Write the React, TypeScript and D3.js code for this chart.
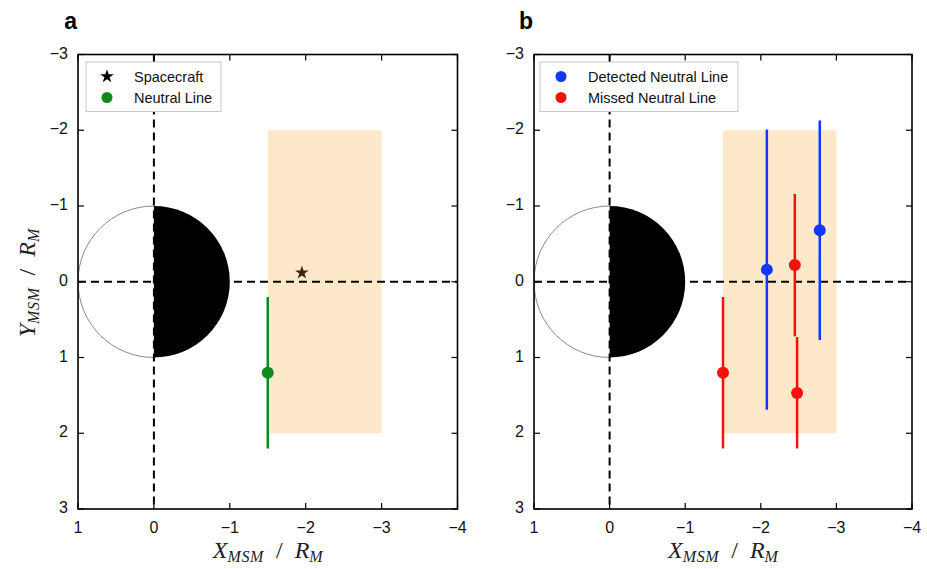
import React from "react";
import * as d3 from "d3";

// Axis ticks (MSM coordinates in Mercury radii)
const xTicks = [1, 0, -1, -2, -3, -4];
const yTicks = [-3, -2, -1, 0, 1, 2, 3];

// Plasma-sheet sampling region
const regionX = [-1.5, -3];
const regionY = [-2, 2];

// Panel a: spacecraft position and single neutral line estimate
const spacecraftX = [-1.95];
const spacecraftY = [-0.12];
const neutralX = [-1.5];
const neutralY = [1.2];
const neutralLo = [0.2];
const neutralHi = [2.2];

// Panel b: detected and missed neutral lines with Y extents
const detectedX = [-2.08, -2.78];
const detectedY = [-0.16, -0.68];
const detectedLo = [-2.01, -2.13];
const detectedHi = [1.69, 0.77];

const missedX = [-1.5, -2.45, -2.48];
const missedY = [1.2, -0.22, 1.47];
const missedLo = [0.2, -1.16, 0.73];
const missedHi = [2.2, 0.72, 2.2];

const W = 927;
const H = 569;
const TOP = 54.5;
const BOTTOM = 509;
const TICK_FONT = "'Liberation Sans', Arial, sans-serif";
const MATH_FONT = "'Liberation Serif', 'Times New Roman', serif";

const GREEN = "#12891e";
const BLUE = "#1238ff";
const RED = "#f5120e";
const REGION = "#fde9c9";

type Bar = { x: number; y: number; lo: number; hi: number };

const zipBars = (xs: number[], ys: number[], lo: number[], hi: number[]): Bar[] =>
  xs.map((x, i) => ({ x, y: ys[i], lo: lo[i], hi: hi[i] }));

function MathLabel({ main, sub, tail, tailSub }: { main: string; sub: string; tail: string; tailSub: string }) {
  return (
    <>
      <tspan fontStyle="italic">{main}</tspan>
      <tspan fontStyle="italic" fontSize={16} dy={4} letterSpacing={0.6}>{sub}</tspan>
      <tspan dy={-4}>{"\u2002/\u2002"}</tspan>
      <tspan fontStyle="italic">{tail}</tspan>
      <tspan fontStyle="italic" fontSize={16} dy={4}>{tailSub}</tspan>
    </>
  );
}

function Panel({
  left,
  right,
  letter,
  children,
  legend,
}: {
  left: number;
  right: number;
  letter: string;
  children: (x: d3.ScaleLinear<number, number>, y: d3.ScaleLinear<number, number>) => React.ReactNode;
  legend: React.ReactNode;
}) {
  const x = d3.scaleLinear().domain([1, -4]).range([left, right]);
  const y = d3.scaleLinear().domain([-3, 3]).range([TOP, BOTTOM]);
  const r = x(0) - x(1); // one Mercury radius in pixels (x)
  const ry = y(1) - y(0);
  const cx = x(0);
  const cy = y(0);
  const tickLen = 6;
  const clipId = `clip-${letter}`;

  return (
    <g>
      <defs>
        <clipPath id={clipId}>
          <rect x={left} y={TOP} width={right - left} height={BOTTOM - TOP} />
        </clipPath>
      </defs>
      <g clipPath={`url(#${clipId})`}>
        <rect
          x={x(regionX[0])}
          y={y(regionY[0])}
          width={x(regionX[1]) - x(regionX[0])}
          height={y(regionY[1]) - y(regionY[0])}
          fill={REGION}
        />
        {/* Planet: dayside half open, nightside half filled */}
        <path
          d={`M${cx},${cy - ry} A${r},${ry} 0 0 0 ${cx},${cy + ry}`}
          fill="white"
          stroke="#8a8a8a"
          strokeWidth={1}
        />
        <path d={`M${cx},${cy - ry} A${r},${ry} 0 0 1 ${cx},${cy + ry} Z`} fill="black" />
        <line x1={left} x2={right} y1={cy} y2={cy} stroke="black" strokeWidth={2} strokeDasharray="8,5" />
        <line x1={cx} x2={cx} y1={TOP} y2={BOTTOM} stroke="black" strokeWidth={2} strokeDasharray="8,5" />
        {children(x, y)}
      </g>
      {/* Frame */}
      <rect x={left} y={TOP} width={right - left} height={BOTTOM - TOP} fill="none" stroke="black" strokeWidth={1.6} />
      {xTicks.map((t) => (
        <g key={`xt${t}`}>
          <line x1={x(t)} x2={x(t)} y1={BOTTOM} y2={BOTTOM - tickLen} stroke="black" strokeWidth={1.2} />
          <line x1={x(t)} x2={x(t)} y1={TOP} y2={TOP + tickLen} stroke="black" strokeWidth={1.2} />
          <text x={x(t)} y={BOTTOM + 24} textAnchor="middle" fontFamily={TICK_FONT} fontSize={16} fill="#111">
            {t < 0 ? `\u2212${-t}` : `${t}`}
          </text>
        </g>
      ))}
      {yTicks.map((t) => (
        <g key={`yt${t}`}>
          <line x1={left} x2={left + tickLen} y1={y(t)} y2={y(t)} stroke="black" strokeWidth={1.2} />
          <line x1={right} x2={right - tickLen} y1={y(t)} y2={y(t)} stroke="black" strokeWidth={1.2} />
          <text x={left - 10} y={y(t) + 4} textAnchor="end" fontFamily={TICK_FONT} fontSize={16} fill="#111">
            {t < 0 ? `\u2212${-t}` : `${t}`}
          </text>
        </g>
      ))}
      <text x={(left + right) / 2} y={558} textAnchor="middle" fontFamily={MATH_FONT} fontSize={24} fill="#222">
        <MathLabel main="X" sub="MSM" tail="R" tailSub="M" />
      </text>
      <text x={left - 1} y={29} textAnchor="end" fontFamily={TICK_FONT} fontWeight="bold" fontSize={23} fill="black">
        {letter}
      </text>
      {legend}
    </g>
  );
}

function ErrorPoints({ bars, color, x, y }: { bars: Bar[]; color: string; x: any; y: any }) {
  return (
    <g>
      {bars.map((b, i) => (
        <g key={i}>
          <line x1={x(b.x)} x2={x(b.x)} y1={y(b.lo)} y2={y(b.hi)} stroke={color} strokeWidth={2.5} />
          <circle cx={x(b.x)} cy={y(b.y)} r={6} fill={color} />
        </g>
      ))}
    </g>
  );
}

function Legend({ left, items }: { left: number; items: { label: string; marker: React.ReactNode }[] }) {
  const width = items[0].label.length > 12 ? 198 : 135;
  return (
    <g>
      <rect x={left + 8} y={62} width={width} height={49.5} fill="white" stroke="#c8c8c8" strokeWidth={1} />
      {items.map((it, i) => (
        <g key={it.label} transform={`translate(${left + 29},${76.5 + i * 21})`}>
          {it.marker}
          <text x={27} y={5} fontFamily={TICK_FONT} fontSize={14.5} fill="#111">
            {it.label}
          </text>
        </g>
      ))}
    </g>
  );
}

export default function App() {
  const star = d3.symbol().type(d3.symbolStar).size(58)() as string;
  const neutralBars = zipBars(neutralX, neutralY, neutralLo, neutralHi);
  const detectedBars = zipBars(detectedX, detectedY, detectedLo, detectedHi);
  const missedBars = zipBars(missedX, missedY, missedLo, missedHi);
  const leftA = 78;
  const leftB = 534;

  return (
    <svg width={W} height={H} style={{ position: "absolute", left: 0, top: 0, background: "white" }}>
      <rect width={W} height={H} fill="white" />
      <text
        transform={`translate(35,283) rotate(-90)`}
        textAnchor="middle"
        fontFamily={MATH_FONT}
        fontSize={24}
        fill="#222"
      >
        <MathLabel main="Y" sub="MSM" tail="R" tailSub="M" />
      </text>
      <Panel
        left={leftA}
        right={457.5}
        letter="a"
        legend={
          <Legend
            left={leftA}
            items={[
              { label: "Spacecraft", marker: <path d={star} fill="black" /> },
              { label: "Neutral Line", marker: <circle r={5.5} fill={GREEN} /> },
            ]}
          />
        }
      >
        {(x, y) => (
          <g>
            <ErrorPoints bars={neutralBars} color={GREEN} x={x} y={y} />
            {spacecraftX.map((sx, i) => (
              <path key={i} d={star} transform={`translate(${x(sx)},${y(spacecraftY[i])})`} fill="#3b2510" />
            ))}
          </g>
        )}
      </Panel>
      <Panel
        left={leftB}
        right={912}
        letter="b"
        legend={
          <Legend
            left={leftB - 2}
            items={[
              { label: "Detected Neutral Line", marker: <circle r={5.5} fill={BLUE} /> },
              { label: "Missed Neutral Line", marker: <circle r={5.5} fill={RED} /> },
            ]}
          />
        }
      >
        {(x, y) => (
          <g>
            <ErrorPoints bars={detectedBars} color={BLUE} x={x} y={y} />
            <ErrorPoints bars={missedBars} color={RED} x={x} y={y} />
          </g>
        )}
      </Panel>
    </svg>
  );
}
